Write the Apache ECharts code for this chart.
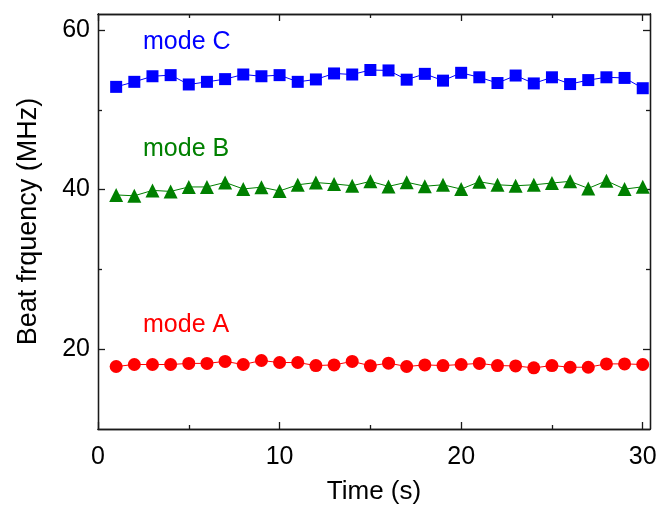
<!DOCTYPE html>
<html>
<head>
<meta charset="utf-8">
<script src="https://cdn.jsdelivr.net/npm/echarts@6/dist/echarts.min.js"></script>
<style>
  html, body { margin: 0; padding: 0; background: #fff; }
  #main { width: 658px; height: 506px; }
</style>
</head>
<body>
<div id="main"></div>
<script>
var timeS = [1, 2, 3, 4, 5, 6, 7, 8, 9, 10, 11, 12, 13, 14, 15,
             16, 17, 18, 19, 20, 21, 22, 23, 24, 25, 26, 27, 28, 29, 30];
var modeA = [17.83, 18.08, 18.08, 18.08, 18.22, 18.22, 18.47, 18.08, 18.58, 18.33,
             18.33, 17.95, 18.03, 18.47, 17.92, 18.25, 17.83, 18.03, 17.95, 18.08,
             18.22, 17.95, 17.9, 17.66, 17.95, 17.74, 17.74, 18.16, 18.16, 18.08];
var modeB = [39.33, 39.22, 39.9, 39.77, 40.33, 40.33, 40.9, 40.08, 40.3, 39.83,
             40.6, 40.88, 40.71, 40.48, 41.03, 40.4, 40.92, 40.42, 40.6, 40.06,
             40.98, 40.6, 40.48, 40.6, 40.82, 41.03, 40.15, 41.1, 40.06, 40.35];
var modeC = [52.87, 53.5, 54.2, 54.34, 53.17, 53.5, 53.84, 54.42, 54.2, 54.34,
             53.5, 53.8, 54.55, 54.42, 54.98, 54.93, 53.77, 54.5, 53.65, 54.63,
             54.07, 53.35, 54.29, 53.3, 54.07, 53.22, 53.72, 54.07, 53.99, 52.7];
var xMajor = [0, 10, 20, 30];
var xMinor = [5, 15, 25];
var yMajor = [20, 40, 60];
var yMinor = [30, 50];
var seriesNames = ['mode A', 'mode B', 'mode C'];

var FONT = 'Liberation Sans, Arial, sans-serif';
var AXC = '#1a1a1a';

function pairs(vals) {
    var out = [];
    for (var i = 0; i < timeS.length; i++) {
        out.push([timeS[i], vals[i]]);
    }
    return out;
}

// one axis = just a frame side with some ticks
function frameAxis(pos, ticks, len, extra) {
    var a = {
        type: 'value',
        position: pos,
        axisLine: { show: true, onZero: false, lineStyle: { color: AXC, width: 1.3 } },
        axisTick: { show: true, inside: true, length: len, customValues: ticks,
                    lineStyle: { color: AXC, width: 1.3 } },
        axisLabel: { show: false },
        splitLine: { show: false }
    };
    for (var k in extra) a[k] = extra[k];
    return a;
}

var xr = { min: 0, max: 30.4 };
var yr = { min: 10, max: 62 };

var xMain = frameAxis('bottom', xMajor, 7, xr);
xMain.name = 'Time (s)';
xMain.nameLocation = 'middle';
xMain.nameGap = 50;
xMain.nameTextStyle = { fontFamily: FONT, fontSize: 26, color: '#000' };
xMain.axisLabel = { show: true, customValues: xMajor, margin: 16,
                    fontFamily: FONT, fontSize: 25, color: '#000' };

var yMain = frameAxis('left', yMajor, 7, yr);
yMain.name = 'Beat frquency (MHz)';
yMain.nameLocation = 'middle';
yMain.nameGap = 56;
yMain.nameTextStyle = { fontFamily: FONT, fontSize: 27, color: '#000' };
yMain.axisLabel = { show: true, customValues: yMajor, margin: 8,
                    fontFamily: FONT, fontSize: 25, color: '#000' };

var myChart = echarts.init(document.getElementById('main'));
var option = {
    animation: false,
    backgroundColor: '#fff',
    grid: { left: 98, right: 8, top: 14, bottom: 77, outerBoundsMode: 'none' },
    xAxis: [
        xMain,
        frameAxis('bottom', xMinor, 4, xr),
        frameAxis('top', xMajor, 7, xr),
        frameAxis('top', xMinor, 4, xr)
    ],
    yAxis: [
        yMain,
        frameAxis('left', yMinor, 4, yr),
        frameAxis('right', yMajor, 7, yr),
        frameAxis('right', yMinor, 4, yr)
    ],
    series: [
        {
            name: seriesNames[0], type: 'line', data: pairs(modeA),
            symbol: 'circle', symbolSize: 13,
            itemStyle: { color: '#ff0000' },
            lineStyle: { color: '#ff0000', width: 1 }
        },
        {
            name: seriesNames[1], type: 'line', data: pairs(modeB),
            symbol: 'triangle', symbolSize: 14,
            itemStyle: { color: '#008000' },
            lineStyle: { color: '#008000', width: 1 }
        },
        {
            name: seriesNames[2], type: 'line', data: pairs(modeC),
            symbol: 'rect', symbolSize: 12,
            itemStyle: { color: '#0000ff' },
            lineStyle: { color: '#0000ff', width: 1 }
        }
    ],
    // 曲线旁边的名字
    graphic: [
        { type: 'text', left: 143, top: 30,
          style: { text: seriesNames[2], fill: '#0000ff', font: '25px ' + FONT } },
        { type: 'text', left: 143, top: 137,
          style: { text: seriesNames[1], fill: '#008000', font: '25px ' + FONT } },
        { type: 'text', left: 143, top: 313,
          style: { text: seriesNames[0], fill: '#ff0000', font: '25px ' + FONT } }
    ]
};
myChart.setOption(option);
</script>
</body>
</html>
